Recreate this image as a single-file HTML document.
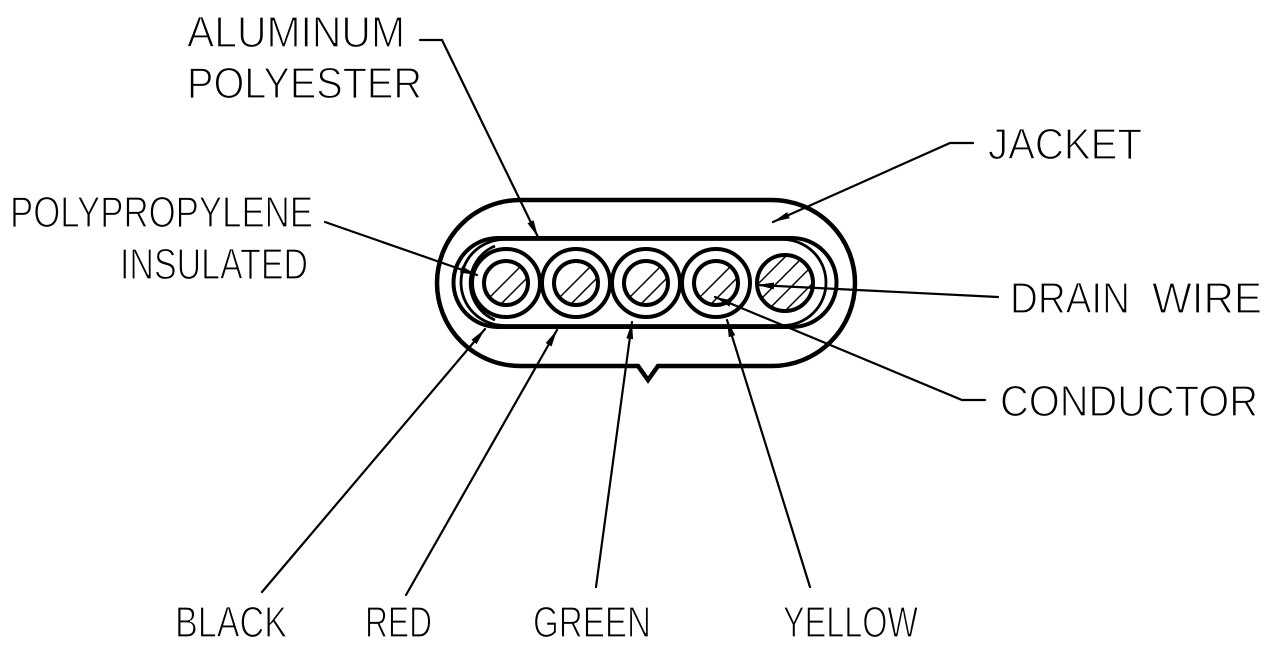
<!DOCTYPE html>
<html>
<head>
<meta charset="utf-8">
<style>
  html, body { margin: 0; padding: 0; background: #fff; }
  body { width: 1270px; height: 649px; overflow: hidden; }
  svg { display: block; }
  text { font-family: "Liberation Sans", "DejaVu Sans", sans-serif; font-size: 44px; fill: #000; stroke: #fff; stroke-width: 1.3px; }
</style>
</head>
<body>
<svg width="1270" height="649" viewBox="0 0 1270 649" xmlns="http://www.w3.org/2000/svg">
  <defs>
    <marker id="ah" markerUnits="userSpaceOnUse" markerWidth="20" markerHeight="10" refX="17" refY="4" orient="auto">
      <path d="M0,0.6 L17,4 L0,7.4 Z" fill="#000"/>
    </marker>
    <clipPath id="c1"><circle cx="506" cy="283" r="21"/></clipPath>
    <clipPath id="c2"><circle cx="576" cy="283" r="21"/></clipPath>
    <clipPath id="c3"><circle cx="646" cy="283" r="21"/></clipPath>
    <clipPath id="c4"><circle cx="716" cy="283" r="21"/></clipPath>
    <clipPath id="c5"><circle cx="785" cy="283" r="27"/></clipPath>
  </defs>

  <!-- Outer jacket with notch -->
  <path d="M520,200 L772,200 A83,83 0 0 1 772,366 L658,366 L648,380 L638,366 L520,366 A83,83 0 0 1 520,200 Z"
        fill="none" stroke="#000" stroke-width="4.5" stroke-linejoin="miter"/>

  <!-- Shield layers -->
  <path d="M498,238 L792,238 A44.5,44.5 0 0 1 792,327 L498,327 A44.5,44.5 0 0 1 498,238 Z"
        fill="none" stroke="#000" stroke-width="4"/>
  <path d="M504,239.5 L783,239.5 A43,43 0 0 1 783,325.5 L504,325.5 A43,43 0 0 1 504,239.5 Z"
        fill="none" stroke="#000" stroke-width="2.8"/>
  <path d="M495,246 A40,40 0 0 0 495,320" fill="none" stroke="#000" stroke-width="2.8"/>

  <!-- Insulation circles -->
  <g fill="none" stroke="#000" stroke-width="4">
    <circle cx="506" cy="283" r="34"/>
    <circle cx="576" cy="283" r="34"/>
    <circle cx="646" cy="283" r="34"/>
    <circle cx="716" cy="283" r="34"/>
  </g>

  <!-- Hatching -->
  <g stroke="#000" stroke-width="1.5">
    <g clip-path="url(#c1)">
      <line x1="466" y1="339" x2="546" y2="259"/>
      <line x1="466" y1="321" x2="546" y2="241"/>
      <line x1="466" y1="357" x2="546" y2="277"/>
    </g>
    <g clip-path="url(#c2)">
      <line x1="536" y1="339" x2="616" y2="259"/>
      <line x1="536" y1="321" x2="616" y2="241"/>
      <line x1="536" y1="357" x2="616" y2="277"/>
    </g>
    <g clip-path="url(#c3)">
      <line x1="606" y1="339" x2="686" y2="259"/>
      <line x1="606" y1="321" x2="686" y2="241"/>
      <line x1="606" y1="357" x2="686" y2="277"/>
    </g>
    <g clip-path="url(#c4)">
      <line x1="676" y1="339" x2="756" y2="259"/>
      <line x1="676" y1="321" x2="756" y2="241"/>
      <line x1="676" y1="357" x2="756" y2="277"/>
    </g>
    <g clip-path="url(#c5)">
      <line x1="735" y1="343" x2="835" y2="243"/>
      <line x1="735" y1="325" x2="835" y2="225"/>
      <line x1="735" y1="361" x2="835" y2="261"/>
      <line x1="735" y1="307" x2="835" y2="207"/>
      <line x1="735" y1="379" x2="835" y2="279"/>
    </g>
  </g>

  <!-- Conductor circles -->
  <g fill="none" stroke="#000" stroke-width="4">
    <circle cx="506" cy="283" r="22"/>
    <circle cx="576" cy="283" r="22"/>
    <circle cx="646" cy="283" r="22"/>
    <circle cx="716" cy="283" r="22"/>
    <circle cx="785" cy="283" r="28"/>
  </g>

  <!-- Leaders -->
  <g fill="none" stroke="#000" stroke-width="2.2" stroke-linecap="round">
    <path d="M420,40 L442,40 L538,237" marker-end="url(#ah)"/>
    <path d="M325,222 L477,275" marker-end="url(#ah)"/>
    <path d="M973,143 L950,143 L773,222" marker-end="url(#ah)"/>
    <path d="M998,297 L757,285" marker-end="url(#ah)"/>
    <path d="M985,400 L962,400 L715,297" marker-end="url(#ah)"/>
    <path d="M262,592 L485,329" marker-end="url(#ah)"/>
    <path d="M406,595 L557,330" marker-end="url(#ah)"/>
    <path d="M596,587 L632,322" marker-end="url(#ah)"/>
    <path d="M810,587 L727,320" marker-end="url(#ah)"/>
  </g>

  <!-- Labels -->
  <text x="187" y="47" textLength="218" lengthAdjust="spacingAndGlyphs">ALUMINUM</text>
  <text x="187" y="98" textLength="235" lengthAdjust="spacingAndGlyphs">POLYESTER</text>
  <text x="10" y="227" textLength="303" lengthAdjust="spacingAndGlyphs">POLYPROPYLENE</text>
  <text x="120" y="279" textLength="188" lengthAdjust="spacingAndGlyphs">INSULATED</text>
  <text x="988" y="159" textLength="154" lengthAdjust="spacingAndGlyphs">JACKET</text>
  <text x="1010" y="313" textLength="120" lengthAdjust="spacingAndGlyphs">DRAIN</text>
  <text x="1152" y="313" textLength="110" lengthAdjust="spacingAndGlyphs">WIRE</text>
  <text x="1000" y="416" textLength="258" lengthAdjust="spacingAndGlyphs">CONDUCTOR</text>
  <text x="175" y="637" textLength="112" lengthAdjust="spacingAndGlyphs">BLACK</text>
  <text x="365" y="637" textLength="67" lengthAdjust="spacingAndGlyphs">RED</text>
  <text x="533" y="637" textLength="118" lengthAdjust="spacingAndGlyphs">GREEN</text>
  <text x="783" y="637" textLength="135" lengthAdjust="spacingAndGlyphs">YELLOW</text>
</svg>
</body>
</html>
